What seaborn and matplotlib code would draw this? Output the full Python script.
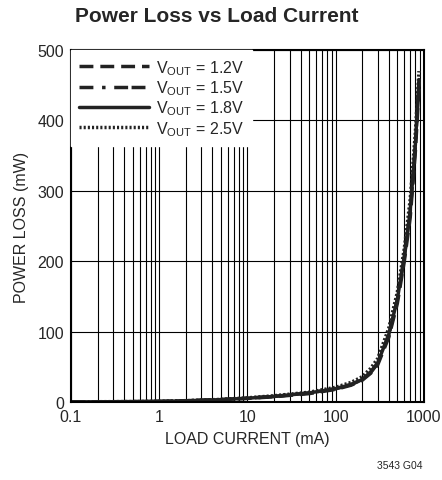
import numpy as np
import pandas as pd
import seaborn as sns
import matplotlib.pyplot as plt
from matplotlib import font_manager
from matplotlib.ticker import LogLocator, FixedLocator, NullFormatter

# load current (mA) and power loss (mW)
current = [0.1, 0.2, 0.5, 1, 2, 5, 10, 20, 50, 100, 150, 200, 250, 300,
           400, 500, 600, 700, 800, 880]
loss_12 = [0.3, 0.4, 0.6, 1.0, 1.7, 3.3, 5.2, 7.5, 12, 18, 24, 31, 41, 53,
           92, 140, 200, 262, 355, 445]
loss_15 = [0.3, 0.4, 0.6, 1.0, 1.8, 3.5, 5.5, 8, 13, 19, 25, 32, 42, 55,
           95, 145, 205, 270, 362, 455]
loss_18 = [0.3, 0.4, 0.6, 1.0, 1.8, 3.5, 5.5, 8, 13, 19, 25, 32, 43, 56,
           96, 146, 207, 272, 365, 458]
loss_25 = [0.3, 0.5, 0.7, 1.1, 2.0, 3.8, 6, 9, 14, 21, 28, 36, 48, 62,
           105, 156, 218, 288, 382, 470]
labels = ['1.2V', '1.5V', '1.8V', '2.5V']

names = [f.name for f in font_manager.fontManager.ttflist]
font = 'Liberation Sans Narrow' if 'Liberation Sans Narrow' in names else 'Liberation Sans'

sns.set_style('white')
plt.rcParams['font.family'] = [font, 'DejaVu Sans']
plt.rcParams['mathtext.fontset'] = 'custom'
plt.rcParams['mathtext.rm'] = font

df = pd.DataFrame({
    'current': current * 4,
    'loss': loss_12 + loss_15 + loss_18 + loss_25,
    'vout': np.repeat(labels, len(current)),
})

fig = plt.figure(figsize=(4.42, 4.81), dpi=100)
ax = fig.add_axes([0.1606, 0.162, 0.7984, 0.732])

styles = {'1.2V': (0, (4, 2)), '1.5V': (0, (4, 2.5, 1, 2.5, 4, 1, 4, 2.5)),
          '1.8V': '-', '2.5V': (0, (0.6, 0.6))}
for lab in labels:
    sub = df[df['vout'] == lab]
    sns.lineplot(data=sub, x='current', y='loss', ax=ax, color='#222222',
                 lw=2.5, linestyle=styles[lab],
                 label=r'V$_{\mathrm{OUT}}$ = ' + lab)

ax.set_xscale('log')
ax.set_xlim(0.1, 1000)
ax.set_ylim(0, 500)
ax.xaxis.set_major_locator(LogLocator(base=10, numticks=10))
ax.xaxis.set_minor_locator(LogLocator(base=10, subs=np.arange(2, 10), numticks=20))
ax.xaxis.set_minor_formatter(NullFormatter())
ax.set_xticks([0.1, 1, 10, 100, 1000])
ax.set_xticklabels(['0.1', '1', '10', '100', '1000'])
ax.yaxis.set_major_locator(FixedLocator([0, 100, 200, 300, 400, 500]))
ax.grid(which='both', color='black', lw=0.8)
ax.tick_params(which='both', length=0, labelsize=11.5, pad=5)
for s in ax.spines.values():
    s.set_color('black')
    s.set_linewidth(1.5)

ax.set_xlabel('LOAD CURRENT (mA)', fontsize=11.5, labelpad=5)
ax.set_ylabel('POWER LOSS (mW)', fontsize=11.5, labelpad=6)
fig.suptitle('Power Loss vs Load Current', fontsize=15, fontweight='bold',
             x=0.49, y=0.985)

leg = ax.legend(loc='upper left', fontsize=11.5, handlelength=4.4,
                handletextpad=0.4, labelspacing=0.1, borderaxespad=0,
                borderpad=0.5, fancybox=False, framealpha=1)
leg.get_frame().set_edgecolor('white')
leg.get_frame().set_facecolor('white')

fig.text(0.955, 0.025, '3543 G04', fontsize=7.5, ha='right')

fig.savefig('out.png', dpi=100)
